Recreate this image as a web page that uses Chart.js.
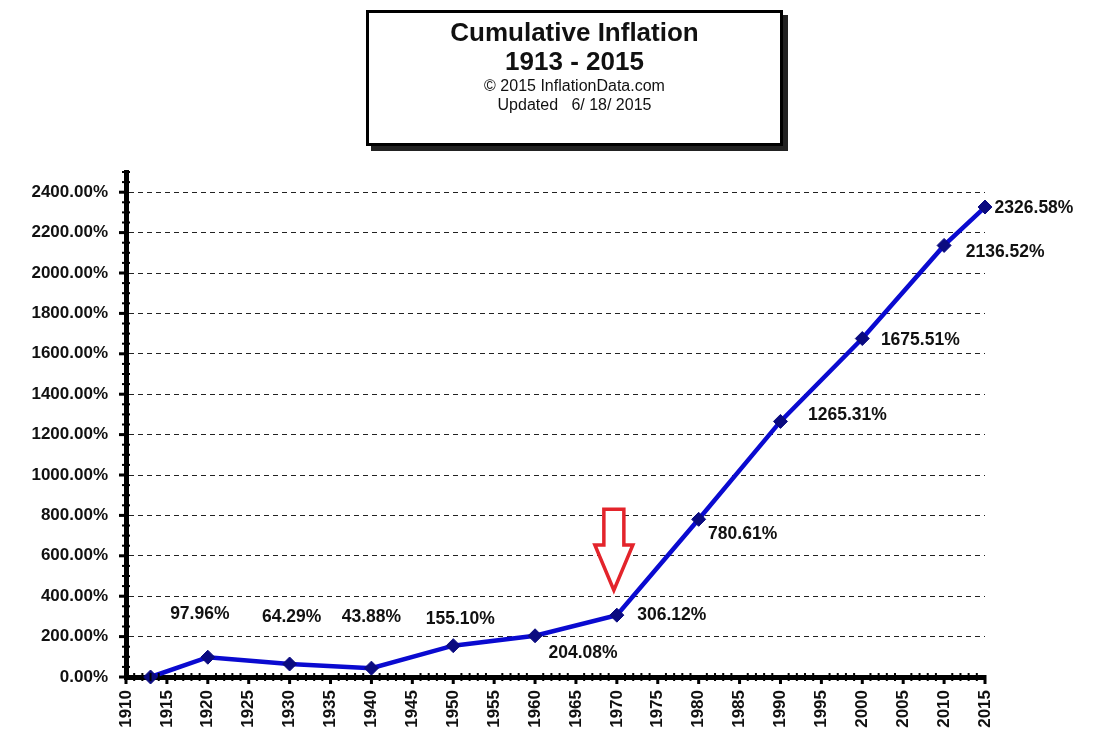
<!DOCTYPE html>
<html>
<head>
<meta charset="utf-8">
<script src="https://cdn.jsdelivr.net/npm/chart.js@4/dist/chart.umd.min.js"></script>
<style>
  html, body { margin: 0; padding: 0; background: #fff; }
  #wrap { position: relative; width: 1100px; height: 748px; }
  #c { position: absolute; left: 0; top: 0; }
  #titlebox {
    position: absolute; left: 366px; top: 10px; width: 411px; height: 130px;
    border: 3px solid #000; background: #fff; box-shadow: 5px 5px 0 #222;
    font-family: "Liberation Sans", Arial, sans-serif; text-align: center; color: #111;
  }
  #titlebox .t1 { font-weight: bold; font-size: 26px; line-height: 28px; margin-top: 5px; }
  #titlebox .t2 { font-weight: bold; font-size: 26px; line-height: 30px; }
  #titlebox .t3 { font-size: 16px; line-height: 19px; }
</style>
</head>
<body>
<div id="wrap">
  <canvas id="c" width="1100" height="748"></canvas>
  <div id="titlebox">
    <div class="t1">Cumulative Inflation</div>
    <div class="t2">1913 - 2015</div>
    <div class="t3">© 2015 InflationData.com</div>
    <div class="t3">Updated&nbsp;&nbsp; 6/ 18/ 2015</div>
  </div>
</div>
<script>
// ---- data ----
const years = [1913, 1920, 1930, 1940, 1950, 1960, 1970, 1980, 1990, 2000, 2010, 2015];
const cumulativeInflation = [0, 97.96, 64.29, 43.88, 155.10, 204.08, 306.12, 780.61, 1265.31, 1675.51, 2136.52, 2326.58];
const pointLabels = ["", "97.96%", "64.29%", "43.88%", "155.10%", "204.08%", "306.12%", "780.61%", "1265.31%", "1675.51%", "2136.52%", "2326.58%"];
const xTickYears = [1910, 1915, 1920, 1925, 1930, 1935, 1940, 1945, 1950, 1955, 1960, 1965, 1970, 1975, 1980, 1985, 1990, 1995, 2000, 2005, 2010, 2015];
const yTickValues = [0, 200, 400, 600, 800, 1000, 1200, 1400, 1600, 1800, 2000, 2200, 2400];
const arrowYear = 1970;
const arrowTopValue = 830;
const arrowBottomValue = 430;

// label offsets in pixels (style only)
const labelOffsets = [[0,0],[-8,-43],[2,-47],[0,-51],[7,-26],[48,17],[55,0],[44,15],[67,-6],[58,2],[61,7],[49,1]];

const FONT = '"Liberation Sans", Arial, sans-serif';

const labelPlugin = {
  id: 'pointLabels',
  afterDatasetsDraw(chart) {
    const ctx = chart.ctx;
    const meta = chart.getDatasetMeta(0);
    ctx.save();
    ctx.font = 'bold 17.5px ' + FONT;
    ctx.fillStyle = '#111';
    ctx.textAlign = 'center';
    ctx.textBaseline = 'middle';
    meta.data.forEach((pt, i) => {
      if (!pointLabels[i]) return;
      const o = labelOffsets[i];
      ctx.fillText(pointLabels[i], pt.x + o[0], pt.y + o[1]);
    });
    ctx.restore();
  }
};

const axisTicksPlugin = {
  id: 'axisTicks',
  afterDraw(chart) {
    const ctx = chart.ctx;
    const xs = chart.scales.x, ys = chart.scales.y;
    const area = chart.chartArea;
    ctx.save();
    ctx.fillStyle = '#000';
    for (let v = 0; v <= 2500; v += 50) {
      const y = ys.getPixelForValue(v);
      if (v % 200 === 0) ctx.fillRect(area.left - 7, y - 1.5, 9, 3);
      else ctx.fillRect(area.left - 4, y - 1, 8, 2);
    }
    for (let yr = 1910; yr <= 2015; yr += 1) {
      const x = xs.getPixelForValue(yr);
      if (yr % 5 === 0) ctx.fillRect(x - 1.5, area.bottom - 2, 3, 9);
      else ctx.fillRect(x - 1, area.bottom - 4, 2, 8);
    }
    ctx.restore();
  }
};

const arrowPlugin = {
  id: 'redArrow',
  afterDatasetsDraw(chart) {
    const ctx = chart.ctx;
    const xs = chart.scales.x, ys = chart.scales.y;
    const cx = xs.getPixelForValue(arrowYear) - 3;
    const top = ys.getPixelForValue(arrowTopValue);
    const bot = ys.getPixelForValue(arrowBottomValue);
    const neck = top + (bot - top) * 0.44;
    const sw = 10, hw = 19;
    ctx.save();
    ctx.beginPath();
    ctx.moveTo(cx - sw, top);
    ctx.lineTo(cx + sw, top);
    ctx.lineTo(cx + sw, neck);
    ctx.lineTo(cx + hw, neck);
    ctx.lineTo(cx, bot);
    ctx.lineTo(cx - hw, neck);
    ctx.lineTo(cx - sw, neck);
    ctx.closePath();
    ctx.fillStyle = '#fff';
    ctx.fill();
    ctx.lineWidth = 3.5;
    ctx.strokeStyle = '#e3242b';
    ctx.lineJoin = 'miter';
    ctx.stroke();
    ctx.restore();
  }
};

new Chart(document.getElementById('c'), {
  type: 'line',
  data: {
    datasets: [{
      data: years.map((y, i) => ({ x: y, y: cumulativeInflation[i] })),
      borderColor: '#0a0ad0',
      borderWidth: 4.5,
      pointStyle: 'rectRot',
      pointRadius: 7,
      pointHoverRadius: 7,
      pointBackgroundColor: '#0b0b80',
      pointBorderColor: '#0b0b80',
      pointBorderWidth: 1,
      tension: 0,
      clip: false
    }]
  },
  options: {
    responsive: false,
    animation: false,
    events: [],
    layout: { padding: { top: 172, right: 115, left: 0, bottom: 0 } },
    plugins: { legend: { display: false }, tooltip: { enabled: false }, title: { display: false } },
    scales: {
      x: {
        type: 'linear',
        min: 1910, max: 2015,
        afterBuildTicks(scale) { scale.ticks = xTickYears.map(v => ({ value: v })); },
        afterFit(scale) { scale.height = 71; },
        grid: { display: false, drawTicks: false },
        border: { display: true, color: '#000', width: 5 },
        ticks: {
          autoSkip: false, minRotation: 90, maxRotation: 90, padding: 13,
          color: '#111', font: { family: FONT, size: 17, weight: 'bold' },
          callback: v => String(v)
        }
      },
      y: {
        type: 'linear',
        min: 0, max: 2500,
        afterBuildTicks(scale) { scale.ticks = yTickValues.map(v => ({ value: v })); },
        afterFit(scale) { scale.width = 126; },
        grid: {
          display: true, drawTicks: false, color: ctx => ctx.tick && ctx.tick.value === 0 ? 'rgba(0,0,0,0)' : '#222',
          lineWidth: 1
        },
        border: { display: true, color: '#000', width: 5, dash: [5, 4] },
        ticks: {
          padding: 18, color: '#111',
          font: { family: FONT, size: 17, weight: 'bold' },
          callback: v => v.toFixed(2) + '%'
        }
      }
    }
  },
  plugins: [arrowPlugin, labelPlugin, axisTicksPlugin]
});
</script>
</body>
</html>
